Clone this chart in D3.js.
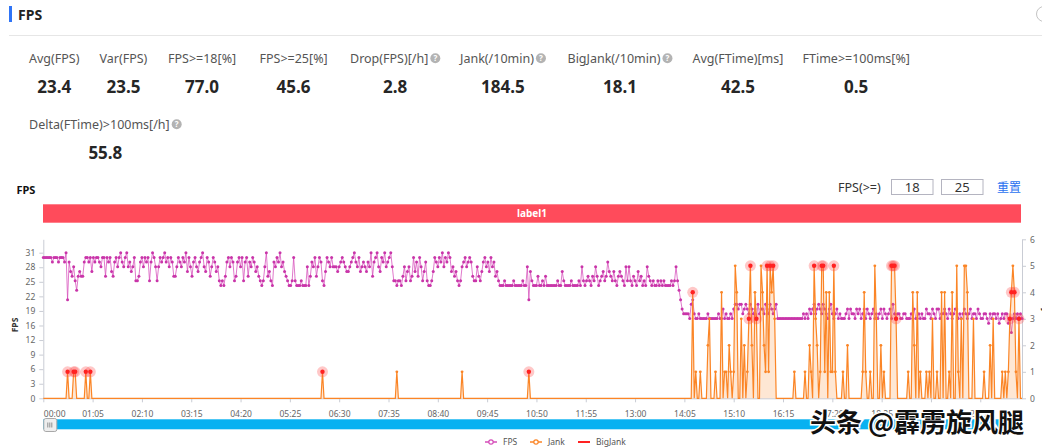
<!DOCTYPE html>
<html><head><meta charset="utf-8">
<script src="https://cdn.jsdelivr.net/npm/d3@7/dist/d3.min.js"></script>
<style>
html,body{margin:0;padding:0;background:#fff;overflow:hidden;}
svg{display:block;font-family:"Noto Sans","Noto Sans CJK SC",sans-serif;}
</style></head><body>
<svg id="c" width="1042" height="448"></svg>
<script>
// ---------------- data ----------------
const STEP = 2; // seconds between samples
const fps = [
30,30,30,30,30,30,29,30,30,30,29,30,30,30,29,31,
21,
29,27,26,28,25,23,26,27,26,26,
29,30,30,29,30,27,30,29,30,30,29,28,30,30,26,30,29,30,
27,26,29,30,28,30,31,29,28,30,31,28,29,27,28,30,25,25,26,29,30,28,
30,29,30,25,29,31,30,28,25,28,30,29,30,31,29,30,28,30,29,26,26,28,30,29,
28,30,29,31,27,30,28,26,29,30,28,27,29,30,31,28,27,30,29,26,28,30,29,27,28,
25,24,25,24,26,29,30,28,30,29,25,26,29,
30,28,30,25,29,30,26,29,28,30,29,27,28,26,25,24,25,
28,31,26,27,25,24,29,28,30,29,31,28,29,27,26,
25,24,24,25,30,25,24,24,24,25,24,24,24,28,24,26,
29,28,30,26,28,30,29,25,24,27,30,29,28,30,
28,28,28,27,28,29,30,29,28,27,27,28,29,30,31,29,28,30,27,28,29,28,
27,29,28,31,26,29,30,31,28,27,30,29,31,28,29,30,31,
28,25,25,24,25,25,24,26,28,25,27,28,
25,26,30,27,29,26,30,28,25,27,29,25,24,24,25,27,30,
29,28,30,29,31,28,30,29,31,30,27,28,26,27,25,
24,25,28,29,30,28,29,30,
29,26,25,25,28,26,25,27,
29,30,28,29,27,30,28,29,26,
27,25,24,24,24,25,24,24,24,24,24,25,24,24,24,24,24,25,24,24,
28,21,
27,25,24,24,24,26,24,24,25,24,26,24,24,24,24,24,24,24,25,24,24,27,25,24,24,
24,24,25,24,24,24,24,25,24,28,25,
24,25,26,25,24,26,25,28,26,24,25,26,27,25,26,29,27,26,25,
27,25,24,26,27,26,25,24,28,25,
28,25,24,26,25,24,27,25,26,24,25,24,28,26,25,24,25,24,24,25,24,25,
24,25,24,24,24,24,25,24,25,28,25,
23,21,19,18,18,18,18,
17,20,21,18,
17,17,18,17,17,17,17,17,18,17,17,17,17,17,17,18,17,17,
19,17,18,17,17,18,17,19,
20,20,19,20,20,18,19,20,
19,18,20,19,18,19,17,20,18,19,19,18,20,19,18,20,19,18,19,20,
17,17,17,17,17,17,17,17,17,17,17,17,17,17,17,17,17,18,17,18,17,19,18,
19,20,18,19,20,19,18,20,19,18,17,19,20,18,17,18,19,17,18,17,17,
17,18,19,17,19,18,18,17,19,18,19,17,18,19,17,19,18,17,18,19,17,18,17,18,19,17,19,18,17,18,19,17,20,18,17,18,
18,17,17,18,18,17,17,17,18,17,19,17,17,18,17,18,17,17,19,18,
18,17,19,18,17,19,19,17,18,18,19,18,17,19,18,17,18,19,19,17,18,17,18,19,18,17,18,19,17,18,18,17,19,18,17,
17,18,18,17,16,18,17,18,18,17,18,16,17,18,17,18,18,16,17,14,17,18,17,18,17,18,17
];
const jank = [
0,0,0,0,0,0,0,0,0,0, 0,0,0,0,0,0,1,0,0,0, 1,1,0,0,0,0,0,0,1,0, 0,1,0,0,0,0,0,0,0,0, 0,0,0,0,0,0,0,0,0,0,
0,0,0,0,0,0,0,0,0,0, 0,0,0,0,0,0,0,0,0,0, 0,0,0,0,0,0,0,0,0,0, 0,0,0,0,0,0,0,0,0,0, 0,0,0,0,0,0,0,0,0,0,
0,0,0,0,0,0,0,0,0,0, 0,0,0,0,0,0,0,0,0,0, 0,0,0,0,0,0,0,0,0,0, 0,0,0,0,0,0,0,0,0,0, 0,0,0,0,0,0,0,0,0,0,
0,0,0,0,0,0,0,0,0,0, 0,0,0,0,0,0,0,0,0,0, 0,0,0,0,0,0,0,0,0,0, 0,0,0,0,1,0,0,0,0,0, 0,0,0,0,0,0,0,0,0,0,
0,0,0,0,0,0,0,0,0,0, 0,0,0,0,0,0,0,0,0,0, 0,0,0,0,0,0,0,0,0,0, 0,0,0,1,0,0,0,0,0,0, 0,0,0,0,0,0,0,0,0,0,
0,0,0,0,0,0,0,0,0,0, 0,0,0,0,0,0,0,0,0,0, 0,0,0,0,0,0,1,0,0,0, 0,0,0,0,0,0,0,0,0,0, 0,0,0,0,0,0,0,0,0,0,
0,0,0,0,0,0,0,0,0,0, 0,0,0,0,0,0,0,0,0,0, 1,0,0,0,0,0,0,0,0,0, 0,0,0,0,0,0,0,0,0,0, 0,0,0,0,0,0,0,0,0,0,
0,0,0,0,0,0,0,0,0,0, 0,0,0,0,0,0,0,0,0,0, 0,0,0,0,0,0,0,0,0,0, 0,0,0,0,0,0,0,0,0,0, 0,0,0,0,0,0,0,0,0,0,
0,0,0,0,0,0,0,0,0,0, 0,0,0,0,0,0,0,0,0,0, 0,0,0,0,0,0,0,0,4,0, 1,0,0,1,0,0,0,0,2,3, 0,0,0,1,0,0,0,4,0,1,
1,0,2,1,0,1,5,4,0,0, 3,0,2,0,1,3,5,2,0,4, 3,0,0,5,4,2,1,5,1,5, 4,5,3,0,0,0,0,0,0,0, 0,0,0,0,0,1,0,0,0,0,
0,0,1,0,0,2,1,0,5,3, 2,0,1,5,5,1,4,0,4,1, 1,5,1,0,0,0,0,1,0,0, 2,0,0,0,0,0,0,0,0,0, 1,4,1,0,0,1,0,0,5,3,
0,0,2,0,1,0,0,0,0,5, 5,5,3,0,0,0,0,0,0,0, 1,0,0,4,2,0,4,0,1,0, 0,0,1,0,1,0,3,0,0,1, 0,0,4,0,4,0,0,1,0,4,
0,0,5,1,0,3,0,5,5,4, 0,0,0,3,0,0,0,0,0,0, 1,0,0,0,2,0,3,0,0,0, 0,0,1,0,1,0,1,3,4,5, 4,1,0,3,0,0
];
const bigJankTimes  = [32,40,42,56,62,368,640,856,930,932,940,954,958,962,1016,1026,1028,1042,1118,1120,1122,1124,1274,1276,1280,1286];
const bigJankValues = [1, 1, 1, 1, 1, 1,  1,  4,  3,  5,  3,  5,  5,  5,  5,   5,   5,   5,   5,   5,   5,   3,   3,   4,   4,   3];

const fpsTickValues = [0,3.1,6.2,9.3,12.4,15.5,18.6,21.7,24.8,27.9,31];
const fpsTickLabels = ["0","3","6","9","12","16","19","22","25","28","31"];
const jankTickValues = [0,1,2,3,4,5,6];
const timeTickValues = [0,65,130,195,260,325,390,455,520,585,650,715,780,845,910,975,1040,1105,1170,1235];
const timeTickLabels = ["00:00","01:05","02:10","03:15","04:20","05:25","06:30","07:35","08:40","09:45","10:50","11:55","13:00","14:05","15:10","16:15","17:20","18:25","19:30","20:35"];

const statLabels = ["Avg(FPS)","Var(FPS)","FPS>=18[%]","FPS>=25[%]","Drop(FPS)[/h]","Jank(/10min)","BigJank(/10min)","Avg(FTime)[ms]","FTime>=100ms[%]","Delta(FTime)>100ms[/h]"];
const statValues = ["23.4","23.5","77.0","45.6","2.8","184.5","18.1","42.5","0.5","55.8"];
const statHelp   = [false,false,false,false,true,true,true,false,false,true];
const thresholds = ["18","25"];
const seriesNames = ["FPS","Jank","BigJank"];

// ---------------- layout ----------------
const statLayout = [[29,0],[99.5,0],[168,0],[259.5,0],[350,0],[460,0],[567.5,0],[692.5,0],[802.5,0],[29,1]];
const rowLabelY = [62.5,128.5], rowValueY = [93.3,159.2];
const COLORS = {fps:"#d54cb9", fpsDot:"#c935a9", jank:"#fb8526", big:"#ff2222"};

const svg = d3.select("#c");

// header
svg.append("rect").attr("x",9).attr("y",6).attr("width",3).attr("height",16).attr("fill","#2f74f6");
svg.append("text").attr("x",18).attr("y",19.5).attr("font-size",14).attr("font-weight","bold").attr("fill","#222").text("FPS");
svg.append("line").attr("x1",9).attr("x2",1042).attr("y1",35.5).attr("y2",35.5).attr("stroke","#e6e6e6");
svg.append("circle").attr("cx",1044).attr("cy",14).attr("r",7.5).attr("fill","none").attr("stroke","#c4c4c4");

// stats
statLabels.forEach((lab,i)=>{
  const [lx,row] = statLayout[i];
  const t = svg.append("text").attr("x",lx).attr("y",rowLabelY[row]).attr("font-size",12.5).attr("fill","#555").text(lab);
  let end = lx + t.node().getComputedTextLength();
  if (statHelp[i]) {
    const cx = end + 7, cy = rowLabelY[row]-4.2;
    svg.append("circle").attr("cx",cx).attr("cy",cy).attr("r",5).attr("fill","#b3b3b3");
    svg.append("text").attr("x",cx).attr("y",cy+3).attr("text-anchor","middle").attr("font-size",8).attr("font-weight","bold").attr("fill","#fff").text("?");
    end = cx + 5;
  }
  svg.append("text").attr("x",(lx+end)/2).attr("y",rowValueY[row]).attr("text-anchor","middle")
    .attr("font-size",17).attr("font-weight","bold").attr("fill","#262626").text(statValues[i]);
});

// chart title + threshold controls
svg.append("text").attr("x",16.5).attr("y",194).attr("font-size",11).attr("font-weight","bold").attr("fill","#111").text("FPS");
svg.append("text").attr("x",838).attr("y",191.5).attr("font-size",12.5).attr("fill","#333").text("FPS(>=)");
[[891,933.5],[941,983.5]].forEach((b,i)=>{
  svg.append("rect").attr("x",b[0]+0.5).attr("y",179.5).attr("width",b[1]-b[0]-1).attr("height",15).attr("fill","#fff").attr("stroke","#b4b4c0");
  svg.append("text").attr("x",(b[0]+b[1])/2).attr("y",191.5).attr("text-anchor","middle").attr("font-size",13).attr("fill","#333").text(thresholds[i]);
});
svg.append("text").attr("x",997).attr("y",192).attr("font-size",12).attr("fill","#2a72f0").attr("font-family","Noto Sans CJK SC").text("重置");

// label band
svg.append("rect").attr("x",43).attr("y",204.3).attr("width",978).attr("height",18.4).attr("fill","#ff4b5b");
svg.append("text").attr("x",532).attr("y",217).attr("text-anchor","middle").attr("font-size",10).attr("font-weight","bold").attr("fill","#fff").text("label1");

// scales
const tMax = (fps.length-1)*STEP;
const x  = d3.scaleLinear().domain([0,tMax]).range([43.3,1022]);
const yL = d3.scaleLinear().domain([0,33.85]).range([398.3,239.3]);
const yR = d3.scaleLinear().domain([0,6]).range([398.3,239.3]);

function styleAxis(g){
  g.select(".domain").attr("stroke","#c9ccd4");
  g.selectAll(".tick line").attr("stroke","#c9ccd4");
  g.selectAll(".tick text").attr("fill","#666").attr("font-size",8.5).attr("font-family","Noto Sans, sans-serif");
}
const gL = svg.append("g").attr("transform","translate(43.3,0)")
  .call(d3.axisLeft(yL).tickValues(fpsTickValues).tickFormat((d,i)=>fpsTickLabels[i]).tickSize(4).tickSizeOuter(0).tickPadding(4));
styleAxis(gL);
const gR = svg.append("g").attr("transform","translate(1022,0)")
  .call(d3.axisRight(yR).tickValues(jankTickValues).tickFormat(d3.format("d")).tickSize(4).tickSizeOuter(0).tickPadding(4));
styleAxis(gR);
const gX = svg.append("g").attr("transform","translate(0,398.3)")
  .call(d3.axisBottom(x).tickValues(timeTickValues).tickFormat((d,i)=>timeTickLabels[i]).tickSize(4).tickSizeOuter(0).tickPadding(9));
styleAxis(gX);
gX.select(".tick text").attr("text-anchor","start");
svg.append("text").attr("transform","translate(18,325) rotate(-90)").attr("text-anchor","middle")
  .attr("font-size",8.5).attr("font-weight","bold").attr("fill","#333").text("FPS");
svg.append("text").attr("transform","translate(1043,318) rotate(90)").attr("text-anchor","middle")
  .attr("font-size",8.5).attr("font-weight","bold").attr("fill","#333").text("Jank");

// FPS series
const fpsPts = fps.map((v,i)=>[i*STEP,v]);
svg.append("path").datum(fpsPts).attr("fill","none").attr("stroke",COLORS.fps).attr("stroke-width",1).attr("stroke-opacity",0.75)
  .attr("d",d3.line().x(d=>x(d[0])).y(d=>yL(d[1])));
svg.append("g").selectAll("circle").data(fpsPts).join("circle")
  .attr("cx",d=>x(d[0])).attr("cy",d=>yL(d[1])).attr("r",1.5).attr("fill",COLORS.fpsDot);

// Jank series
const jankPts = jank.map((v,i)=>[i*STEP,v]);
svg.append("path").datum(jankPts).attr("fill",COLORS.jank).attr("fill-opacity",0.2)
  .attr("d",d3.area().x(d=>x(d[0])).y0(yR(0)).y1(d=>yR(d[1])));
svg.append("path").datum(jankPts).attr("fill","none").attr("stroke",COLORS.jank).attr("stroke-width",1.2)
  .attr("d",d3.line().x(d=>x(d[0])).y(d=>yR(d[1])));
svg.append("g").selectAll("circle").data(jankPts.filter(d=>d[1]>0)).join("circle")
  .attr("cx",d=>x(d[0])).attr("cy",d=>yR(d[1])).attr("r",1.4).attr("fill",COLORS.jank);

// BigJank
const bigPts = bigJankTimes.map((t,i)=>[t,bigJankValues[i]]);
const gB = svg.append("g");
gB.selectAll("circle.h").data(bigPts).join("circle").attr("class","h")
  .attr("cx",d=>x(d[0])).attr("cy",d=>yR(d[1])).attr("r",5.5).attr("fill","#ff3b3b").attr("fill-opacity",0.28);
gB.selectAll("circle.d").data(bigPts).join("circle").attr("class","d")
  .attr("cx",d=>x(d[0])).attr("cy",d=>yR(d[1])).attr("r",2.2).attr("fill",COLORS.big);

// data zoom slider
svg.append("rect").attr("x",43.3).attr("y",419.3).attr("width",978.7).attr("height",10).attr("fill","#07b1f1");
svg.append("rect").attr("x",43.8).attr("y",418.5).attr("width",13).attr("height",13).attr("rx",2).attr("fill","#eeeeee").attr("stroke","#a8a8a8");
[47.8,49.8,51.8].forEach(px=>svg.append("line").attr("x1",px).attr("x2",px).attr("y1",422.5).attr("y2",427.5).attr("stroke","#777").attr("stroke-width",0.8));

// legend
const legendItems = [
  {name:seriesNames[0], x:485, color:COLORS.fps, dot:true},
  {name:seriesNames[1], x:530, color:COLORS.jank, dot:true},
  {name:seriesNames[2], x:578, color:COLORS.big, dot:false}
];
legendItems.forEach(it=>{
  svg.append("line").attr("x1",it.x).attr("x2",it.x+12).attr("y1",442).attr("y2",442).attr("stroke",it.color).attr("stroke-width",it.dot?1.5:2);
  if(it.dot) svg.append("circle").attr("cx",it.x+6).attr("cy",442).attr("r",2.2).attr("fill","#fff").attr("stroke",it.color).attr("stroke-width",1.2);
  svg.append("text").attr("x",it.x+18).attr("y",445).attr("font-size",8.5).attr("fill","#555").text(it.name);
});

// watermark
svg.append("text").attr("x",810).attr("y",432).attr("font-size",26).attr("font-weight","bold")
  .attr("font-family","Noto Sans CJK SC").attr("fill","#111").attr("stroke","#fff").attr("stroke-width",3)
  .attr("paint-order","stroke").text("头条 @霹雳旋风腿");
</script>
</body></html>
